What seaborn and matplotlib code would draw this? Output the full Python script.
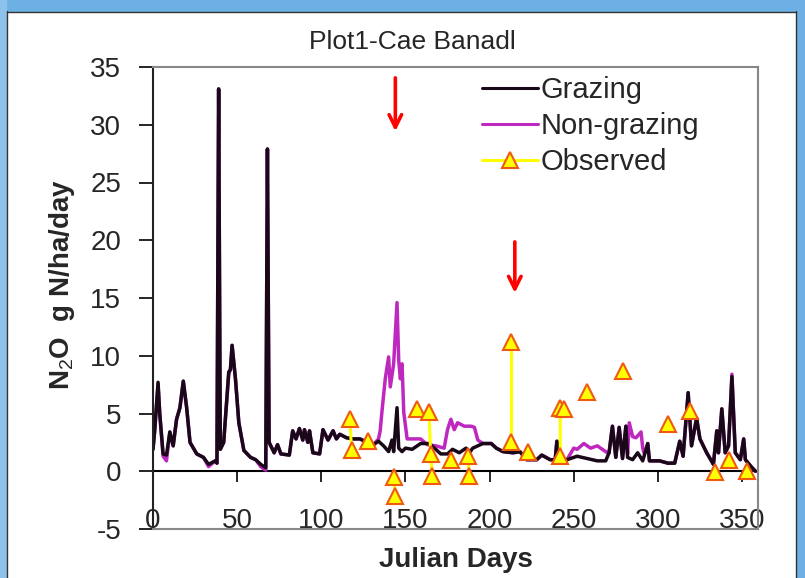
import numpy as np
import pandas as pd
import matplotlib
matplotlib.use('Agg')
import matplotlib.pyplot as plt
from matplotlib.lines import Line2D
from matplotlib.patches import Rectangle
import seaborn as sns

# daily simulated N2O flux, grazing plot (black)
grazing_days = [0, 1, 3, 4, 6, 8, 10, 12, 14, 16, 18, 20, 22, 26, 30, 33, 37, 38, 39, 40,
                42, 45, 46, 47, 49, 51, 54, 58, 61, 64, 67, 68, 69, 72, 74, 76, 81, 83, 85, 87,
                89, 90, 92, 93, 95, 99, 101, 104, 107, 109, 111, 115, 119, 123, 127, 131, 134, 137, 140, 142,
                143, 145, 146, 148, 150, 154, 159, 164, 168, 171, 175, 178, 182, 186, 188, 190, 196, 201, 204, 208,
                214, 218, 222, 228, 231, 236, 239, 240, 242, 246, 252, 258, 264, 269, 271, 273, 275, 277, 279, 281,
                282, 285, 288, 291, 294, 295, 301, 306, 310, 313, 315, 318, 320, 323, 325, 329, 333, 335, 336, 338,
                340, 342, 344, 346, 349, 351, 352, 356, 358]
grazing_n2o = [1.9, 3.5, 7.7, 5.0, 1.5, 1.4, 3.4, 2.2, 4.5, 5.5, 7.8, 5.5, 2.5, 1.5, 1.2, 0.6, 0.9, 0.7, 33.1, 1.9,
               2.5, 8.6, 8.8, 10.9, 8.0, 4.2, 1.8, 1.2, 1.0, 0.6, 0.3, 27.9, 2.5, 1.6, 2.3, 1.5, 1.4, 3.5, 2.8, 3.7,
               2.7, 3.6, 2.5, 3.5, 1.6, 1.5, 3.6, 2.7, 3.5, 2.8, 3.2, 2.9, 2.8, 2.8, 2.5, 2.3, 2.6, 2.2, 1.7, 2.7,
               1.7, 5.5, 2.0, 1.7, 2.0, 1.9, 2.4, 2.4, 1.9, 1.5, 1.5, 1.9, 1.6, 2.0, 1.6, 2.0, 2.4, 2.4, 2.0, 1.7,
               1.6, 1.7, 1.0, 1.0, 1.4, 1.0, 1.0, 2.6, 1.0, 1.0, 1.3, 1.1, 0.9, 0.9, 1.6, 3.9, 1.2, 3.8, 1.1, 3.9,
               1.2, 1.0, 1.6, 0.9, 2.4, 0.9, 0.9, 0.7, 0.7, 2.6, 1.3, 6.8, 2.2, 4.6, 2.8, 1.6, 0.6, 3.5, 1.6, 5.4,
               1.6, 2.2, 8.2, 1.6, 1.0, 2.8, 1.0, 0.3, 0.0]

# non-grazing plot (magenta)
nongrazing_days = [0, 1, 3, 4, 6, 8, 10, 12, 14, 16, 18, 20, 22, 26, 30, 33, 37, 38, 39, 40,
                   42, 45, 46, 47, 49, 51, 54, 58, 61, 64, 67, 68, 69, 72, 74, 76, 81, 83, 85, 87,
                   89, 90, 92, 93, 95, 99, 101, 104, 107, 109, 111, 115, 119, 123, 127, 131, 134, 135, 136, 138,
                   140, 141, 143, 145, 146, 147, 148, 149, 151, 154, 159, 163, 168, 173, 175, 177, 179, 181, 185, 189,
                   191, 193, 196, 201, 204, 208, 214, 218, 222, 228, 231, 236, 239, 240, 242, 246, 250, 252, 256, 260,
                   264, 268, 270, 271, 273, 275, 277, 279, 281, 282, 283, 285, 287, 290, 291, 292, 294, 295, 301, 306,
                   310, 313, 315, 318, 320, 323, 325, 329, 333, 335, 336, 338, 340, 342, 344, 346, 349, 351, 352, 356,
                   358]
nongrazing_n2o = [1.9, 3.5, 7.5, 5.0, 1.3, 0.9, 3.4, 2.2, 4.5, 5.5, 7.8, 5.5, 2.5, 1.5, 1.2, 0.4, 0.9, 0.7, 33.1, 1.9,
                  2.5, 8.4, 8.8, 10.9, 8.0, 4.2, 1.8, 1.2, 1.0, 0.4, 0.1, 27.9, 2.5, 1.6, 2.3, 1.5, 1.4, 3.5, 2.8, 3.7,
                  2.7, 3.6, 2.5, 3.5, 1.6, 1.5, 3.6, 2.7, 3.5, 2.8, 3.2, 2.9, 2.8, 2.8, 2.5, 2.3, 2.8, 3.5, 5.1, 8.0,
                  9.9, 7.3, 9.3, 14.6, 9.6, 8.0, 9.3, 5.1, 2.8, 2.8, 2.8, 2.3, 2.2, 2.0, 3.6, 4.5, 3.6, 4.2, 3.9, 3.9,
                  3.8, 2.7, 2.4, 2.4, 2.0, 1.7, 1.6, 1.7, 1.0, 1.0, 1.4, 1.0, 1.0, 2.6, 1.0, 1.0, 2.0, 1.9, 2.4, 2.0,
                  2.2, 1.8, 1.6, 1.6, 3.9, 1.2, 3.8, 1.1, 3.9, 1.5, 4.2, 3.0, 2.9, 3.4, 2.0, 1.5, 2.4, 0.9, 0.9, 0.7,
                  0.7, 2.6, 1.3, 6.8, 2.2, 4.6, 2.8, 1.6, 0.6, 3.5, 1.6, 5.4, 1.6, 2.2, 8.4, 1.6, 1.0, 2.8, 1.0, 0.3,
                  0.0]

# field observations, same-day samples joined
obs_days = [117, 118, 128, 143, 144, 157, 164, 165, 166, 177, 187, 188, 213, 213, 223,
            242, 242, 244, 258, 279, 306, 319, 334, 342, 353]
obs_n2o = [4.5, 1.8, 2.6, -0.5, -2.1, 5.4, 5.1, 1.5, -0.4, 1.0, 1.3, -0.4, 11.2, 2.5, 1.7,
           1.3, 5.5, 5.4, 6.9, 8.7, 4.1, 5.2, -0.1, 1.0, 0.0]
obs_group = [1, 1, 2, 3, 3, 4, 5, 5, 5, 6, 7, 7, 8, 8, 9,
             10, 10, 10, 11, 12, 13, 14, 15, 16, 17]

# arrows (day, top, tip)
arrow_days = [144, 215]
arrow_top = [34.3, 20.1]
arrow_tip = [29.2, 15.2]

x_ticks = [0, 50, 100, 150, 200, 250, 300, 350]
y_ticks = [-5, 0, 5, 10, 15, 20, 25, 30, 35]

sns.set_style('white')
plt.rcParams['font.family'] = ['Liberation Sans', 'DejaVu Sans']
plt.rcParams['mathtext.fontset'] = 'custom'
plt.rcParams['mathtext.rm'] = 'Liberation Sans'
plt.rcParams['axes.unicode_minus'] = False

fig = plt.figure(figsize=(8.05, 5.78), dpi=100)
ax = fig.add_axes([153/805, 49/578, 605/805, 462/578])

black = '#180818'
magenta = '#BF28BF'
yellow = '#FFFF00'
edge = '#F05A10'

sns.lineplot(x=nongrazing_days, y=nongrazing_n2o, ax=ax, color=magenta, lw=2.5, estimator=None, sort=False)
sns.lineplot(x=grazing_days, y=grazing_n2o, ax=ax, color=black, lw=2.5, estimator=None, sort=False)

obs = pd.DataFrame({'day': obs_days, 'n2o': obs_n2o, 'grp': obs_group})
sns.lineplot(data=obs, x='day', y='n2o', units='grp', estimator=None, sort=False, ax=ax,
             color=yellow, lw=2.2, marker='^', markersize=12, markerfacecolor=yellow,
             markeredgecolor=edge, markeredgewidth=1.5, legend=False)

for d, t, b in zip(arrow_days, arrow_top, arrow_tip):
    ax.annotate('', xy=(d, b), xytext=(d, t),
                arrowprops=dict(arrowstyle='->,head_length=0.9,head_width=0.45', color='#FF0000', lw=2.6))

ax.set_xlim(0, 359.5)
ax.set_ylim(-5, 35)
ax.set_xticks(x_ticks)
ax.set_yticks(y_ticks)
ax.tick_params(axis='x', length=0, pad=-15, labelsize=20)
ax.tick_params(axis='y', direction='out', length=10, width=1.2, color='black', pad=13, labelsize=20, left=True)

for s in ['top', 'right', 'bottom']:
    ax.spines[s].set_color('#888888')
    ax.spines[s].set_linewidth(1.5)
ax.spines['left'].set_color('#222222')
ax.spines['left'].set_linewidth(1.5)

# x axis line crossing at zero
zero_frac = (0 - y_ticks[0]) / (y_ticks[-1] - y_ticks[0])
sec = ax.secondary_xaxis(zero_frac)
sec.set_xticks(x_ticks)
sec.tick_params(direction='out', length=8, width=1.2, color='black', labelbottom=False, labeltop=False)
sec.spines['bottom'].set_color('black')
sec.spines['bottom'].set_linewidth(1.5)

ax.set_xlabel('Julian Days', fontsize=20, fontweight='bold')
ax.xaxis.set_label_coords(0.5, -0.04)
ax.set_ylabel(r'N$_2$O  g N/ha/day', fontsize=20, fontweight='bold')
ax.yaxis.set_label_coords(-0.126, 0.53)

fig.text(412/805, 1 - 42/578, 'Plot1-Cae Banadl', ha='center', va='center', fontsize=19)

handles = [Line2D([], [], color=black, lw=2.2),
           Line2D([], [], color=magenta, lw=2.2),
           Line2D([], [], color=yellow, lw=2.2, marker='^', markersize=12,
                  markerfacecolor=yellow, markeredgecolor=edge, markeredgewidth=1.5)]
ax.legend(handles, ['Grazing', 'Non-grazing', 'Observed'], loc='upper left',
          bbox_to_anchor=(0.52, 1.012), frameon=False, fontsize=21, handlelength=1.9,
          handletextpad=0.1, labelspacing=0.27, borderaxespad=0.1)

# slide border
fig.patches.append(Rectangle((0, 1 - 11/578), 1, 11/578, transform=fig.transFigure, color='#6CB0E4', zorder=0))
fig.patches.append(Rectangle((0, 0), 6/805, 1, transform=fig.transFigure, color='#8CC2EC', zorder=0))
fig.patches.append(Rectangle((797/805, 0), 8/805, 1, transform=fig.transFigure, color='#6CB0E4', zorder=0))
fig.add_artist(Line2D([7/805, 7/805], [0, 1 - 11/578], transform=fig.transFigure, color='#333333', lw=1))
fig.add_artist(Line2D([7/805, 796/805], [1 - 12/578, 1 - 12/578], transform=fig.transFigure, color='#333333', lw=1))
fig.add_artist(Line2D([796/805, 796/805], [0, 1 - 11/578], transform=fig.transFigure, color='#333333', lw=1))

fig.savefig('out.png', dpi=100)
